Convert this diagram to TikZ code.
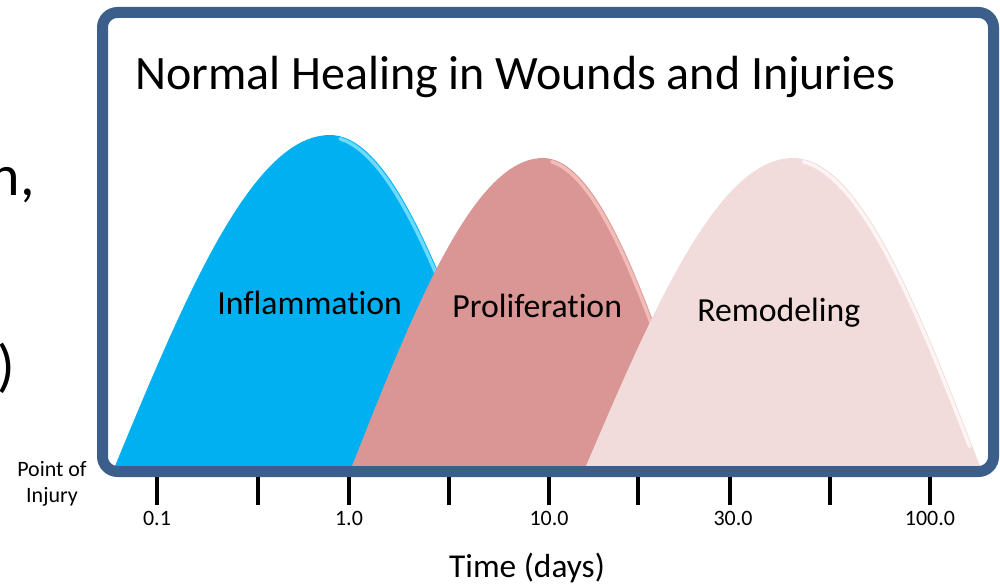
\documentclass[tikz,border=0pt]{standalone}
\usepackage{fontspec}
\setmainfont{Carlito}[Ligatures=NoCommon]
\definecolor{framecol}{RGB}{59,95,138}
\definecolor{inflamcol}{RGB}{0,176,240}
\definecolor{inflamlite}{RGB}{110,218,255}
\definecolor{prolifcol}{RGB}{217,150,148}
\definecolor{proliflite}{RGB}{242,188,185}
\definecolor{remodelcol}{RGB}{242,220,219}
\definecolor{remodellite}{RGB}{253,245,245}
\begin{document}
\begin{tikzpicture}[x=0.02cm, y=-0.02cm,
        phase/.style={anchor=base west, inner sep=0, font=\fontsize{19.2}{23}\selectfont},
        ticklabel/.style={anchor=base, inner sep=0, font=\fontsize{12.5}{15}\selectfont},
        tickmark/.style={line width=0.08cm},
        glow/.style={line width=0.07cm, line cap=round}]
        \useasboundingbox (0,0) rectangle (1000,584);
        \clip (0,0) rectangle (1000,584);
        % slide text cut off at the left edge
        \node [anchor=base east, inner sep=0, font=\fontsize{33}{40}\selectfont] (cutcomma) at (35,195) {n,};
        \node [anchor=base east, inner sep=0, font=\fontsize{33}{40}\selectfont] (cutparen) at (15,385) {)};
        % the three phases, left half and right half of each hump
        \fill [inflamcol] plot [domain=-90:0, samples=40] ({330+(\x/90)*215},{466-331*cos(\x)}) -- plot [domain=0:90, samples=40] ({330+(\x/90)*180},{466-331*cos(\x)}) -- cycle;
        \draw [glow, inflamlite] plot [domain=6:80, samples=30] ({328+(\x/90)*180},{468-331*cos(\x)});
        \fill [prolifcol] plot [domain=-90:0, samples=40] ({543+(\x/90)*191},{466-308*cos(\x)}) -- plot [domain=0:90, samples=40] ({543+(\x/90)*160},{466-308*cos(\x)}) -- cycle;
        \draw [glow, proliflite] plot [domain=6:80, samples=30] ({541+(\x/90)*160},{468-308*cos(\x)});
        \fill [remodelcol] plot [domain=-90:0, samples=40] ({793+(\x/90)*207},{466-308*cos(\x)}) -- plot [domain=0:90, samples=40] ({793+(\x/90)*187},{466-308*cos(\x)}) -- cycle;
        \draw [glow, remodellite] plot [domain=6:86, samples=30] ({791+(\x/90)*187},{468-308*cos(\x)});
        \node [phase] (inflam) at (217,314) {Inflammation};
        \node [phase] (prolif) at (452,317) {Proliferation};
        \node [phase] (remodel) at (697,321) {Remodeling};
        % frame
        \draw [framecol, line width=0.22cm, rounded corners=0.3cm] (102.5,12.5) rectangle (993.5,471.5);
        \node [anchor=base west, inner sep=0, font=\fontsize{27.3}{33}\selectfont] (title) at (135,90) {Normal Healing in Wounds and Injuries};
        % time axis
        \draw [tickmark] (157,477) -- (157,505) (258,477) -- (258,505) (349,477) -- (349,505)
            (449,477) -- (449,505) (549,477) -- (549,505) (638,477) -- (638,505)
            (730,477) -- (730,505) (830,477) -- (830,505) (930,477) -- (930,505);
        \node [ticklabel] (t01) at (157,525) {0.1};
        \node [ticklabel] (t1) at (349,525) {1.0};
        \node [ticklabel] (t10) at (549,525) {10.0};
        \node [ticklabel] (t30) at (733,525) {30.0};
        \node [ticklabel] (t100) at (930,525) {100.0};
        \node [ticklabel, align=center, font=\fontsize{12.5}{14.7}\selectfont] (injury) at (52,502) {Point of\\Injury};
        \node [anchor=base, inner sep=0, font=\fontsize{19}{23}\selectfont] (timelabel) at (527,577) {Time (days)};
    \end{tikzpicture}
\end{document}
